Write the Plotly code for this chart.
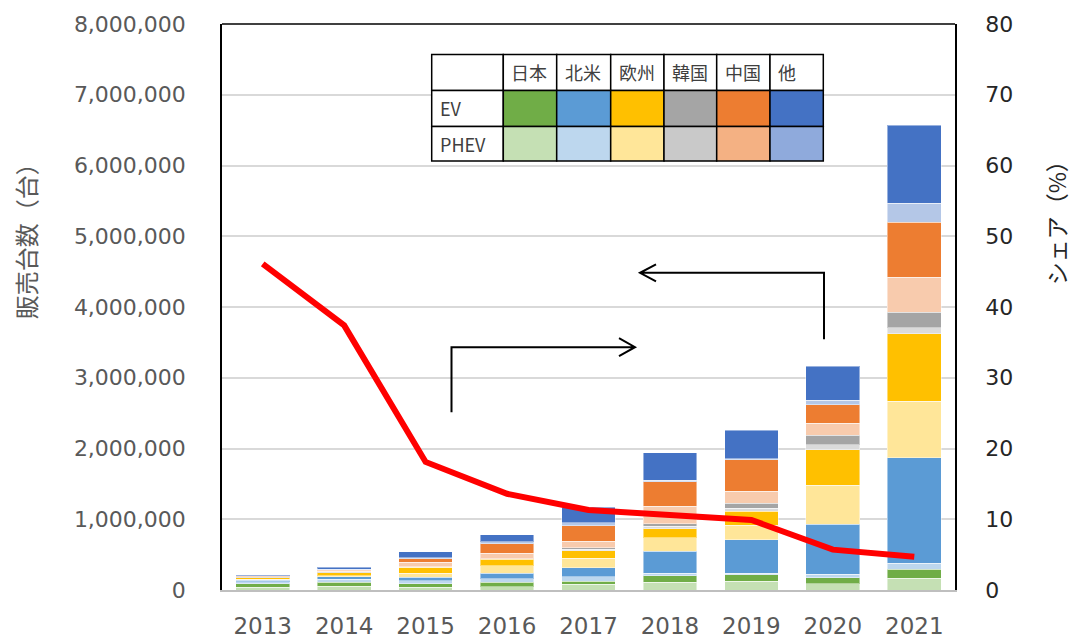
import plotly.graph_objects as go

years = ["2013", "2014", "2015", "2016", "2017", "2018", "2019", "2020", "2021"]

# sales (units) by region and type
jp_phev = [38000, 52000, 38000, 47000, 80000, 113000, 127000, 85000, 169000]
jp_ev   = [47000, 56000, 47000, 61000, 47000, 87000, 89000, 89000, 127000]
na_phev = [33000, 42000, 47000, 52000, 61000, 40000, 24000, 52000, 81000]
na_ev   = [19000, 38000, 47000, 80000, 127000, 305000, 470000, 702000, 1493000]
eu_phev = [14000, 14000, 61000, 103000, 135000, 193000, 207000, 550000, 797000]
eu_ev   = [24000, 42000, 80000, 94000, 105000, 127000, 193000, 503000, 952000]
kr_phev = [1000, 2000, 3000, 3000, 19000, 35000, 47000, 75000, 90000]
kr_ev   = [1000, 2000, 3000, 5000, 23000, 40000, 70000, 130000, 220000]
cn_phev = [7000, 14000, 66000, 71000, 94000, 245000, 170000, 170000, 494000]
cn_ev   = [7000, 19000, 52000, 137000, 217000, 345000, 445000, 259000, 776000]
ot_phev = [9000, 10000, 14000, 32000, 42000, 20000, 15000, 66000, 268000]
ot_ev   = [10000, 33000, 80000, 99000, 217000, 390000, 400000, 480000, 1100000]

# Japan share (%)
share = [46.1, 37.4, 18.1, 13.6, 11.3, 10.5, 9.9, 5.7, 4.7]

regions = ["日本", "北米", "欧州", "韓国", "中国", "他"]
row_labels = ["EV", "PHEV"]
ev_colors = ["#70AD47", "#5B9BD5", "#FFC000", "#A5A5A5", "#ED7D31", "#4472C4"]
phev_bar_colors = ["#C5E0B4", "#BDD7EE", "#FFE699", "#DBDBDB", "#F8CBAD", "#B4C7E7"]
phev_tab_colors = ["#C5E0B4", "#BDD7EE", "#FFE699", "#C9C9C9", "#F4B183", "#8FAADC"]

series = [
    ("日本 PHEV", jp_phev, phev_bar_colors[0]),
    ("日本 EV", jp_ev, ev_colors[0]),
    ("北米 PHEV", na_phev, phev_bar_colors[1]),
    ("北米 EV", na_ev, ev_colors[1]),
    ("欧州 PHEV", eu_phev, phev_bar_colors[2]),
    ("欧州 EV", eu_ev, ev_colors[2]),
    ("韓国 PHEV", kr_phev, phev_bar_colors[3]),
    ("韓国 EV", kr_ev, ev_colors[3]),
    ("中国 PHEV", cn_phev, phev_bar_colors[4]),
    ("中国 EV", cn_ev, ev_colors[4]),
    ("他 PHEV", ot_phev, phev_bar_colors[5]),
    ("他 EV", ot_ev, ev_colors[5]),
]

FONT = "DejaVu Sans, Noto Sans CJK JP, sans-serif"
CJK = "Noto Sans CJK JP, sans-serif"

fig = go.Figure()
for name, vals, col in series:
    fig.add_trace(go.Bar(
        x=years, y=vals, name=name,
        marker=dict(color=col, line=dict(color="rgba(255,255,255,0.45)", width=1)),
    ))

fig.add_trace(go.Scatter(
    x=years, y=share, yaxis="y2", mode="lines", name="シェア",
    line=dict(color="#FF0000", width=6),
))

# plot area in pixels
L, R, T, B = 222, 955, 23.5, 590
W, H = R - L, B - T


def px(xp):
    return (xp - L) / W


def py(yp):
    return (B - yp) / H


shapes = []
# top frame line
shapes.append(dict(type="line", xref="paper", yref="paper", x0=0, x1=1, y0=1, y1=1,
                   line=dict(color="#000000", width=1.5), layer="above"))

# legend table
col_edges = [431.7, 503.3, 556.7, 610.7, 664, 716.7, 770, 823.3]
row_edges = [54, 90, 126, 160.7]
annotations = []
for r in range(3):
    for c in range(7):
        fill = "#FFFFFF"
        if r == 1 and c > 0:
            fill = ev_colors[c - 1]
        elif r == 2 and c > 0:
            fill = phev_tab_colors[c - 1]
        shapes.append(dict(type="rect", xref="paper", yref="paper",
                           x0=px(col_edges[c]), x1=px(col_edges[c + 1]),
                           y0=py(row_edges[r + 1]), y1=py(row_edges[r]),
                           fillcolor=fill, line=dict(color="#000000", width=1.5),
                           layer="above"))
for i, reg in enumerate(regions):
    annotations.append(dict(xref="paper", yref="paper", x=px(col_edges[i + 1] + 6),
                            y=py((row_edges[0] + row_edges[1]) / 2), text=reg,
                            showarrow=False, xanchor="left", yanchor="middle",
                            font=dict(family=CJK, size=18, color="#404040")))
for j, lab in enumerate(row_labels):
    annotations.append(dict(xref="paper", yref="paper", x=px(col_edges[0] + 6),
                            y=py((row_edges[j + 1] + row_edges[j + 2]) / 2), text=lab,
                            showarrow=False, xanchor="left", yanchor="middle",
                            font=dict(family=CJK, size=18, color="#404040")))

# arrows (open chevron heads)
arrow_line = dict(color="#000000", width=2)
p1 = (f"M {px(451.5)},{py(412)} L {px(451.5)},{py(347)} L {px(635)},{py(347)} "
      f"M {px(619)},{py(338)} L {px(635)},{py(347)} L {px(619)},{py(356)}")
p2 = (f"M {px(824)},{py(339)} L {px(824)},{py(272.5)} L {px(640)},{py(272.5)} "
      f"M {px(656)},{py(264)} L {px(640)},{py(272.5)} L {px(656)},{py(281)}")
shapes.append(dict(type="path", xref="paper", yref="paper", path=p1, line=arrow_line, layer="above"))
shapes.append(dict(type="path", xref="paper", yref="paper", path=p2, line=arrow_line, layer="above"))

# axis titles
annotations.append(dict(xref="paper", yref="paper", x=px(25), y=py(235), text="販売台数（台）",
                        textangle=-90, showarrow=False, xanchor="center", yanchor="middle",
                        font=dict(family=CJK, size=24, color="#595959")))
annotations.append(dict(xref="paper", yref="paper", x=px(1056), y=py(217), text="シェア（%）",
                        textangle=-90, showarrow=False, xanchor="center", yanchor="middle",
                        font=dict(family=CJK, size=23, color="#262626")))

fig.update_layout(
    width=1076, height=638, autosize=False,
    margin=dict(l=L, r=1076 - R, t=T, b=638 - B, pad=0, autoexpand=False),
    paper_bgcolor="white", plot_bgcolor="white",
    barmode="stack", bargap=0.34,
    showlegend=False,
    font=dict(family=FONT),
    xaxis=dict(type="category", showline=True, linecolor="#BFBFBF", linewidth=2,
               ticks="", showgrid=False, ticklabelstandoff=14, automargin=False,
               tickfont=dict(family=FONT, size=23, color="#595959")),
    yaxis=dict(range=[0, 8000000], dtick=1000000, tickformat=",d", showgrid=True,
               gridcolor="#D9D9D9", gridwidth=1.5, showline=True, linecolor="#000000",
               linewidth=1.5, ticks="", ticklabelstandoff=30, zeroline=False, automargin=False,
               tickfont=dict(family=FONT, size=22, color="#595959")),
    yaxis2=dict(range=[0, 80], dtick=10, overlaying="y", side="right", showgrid=False,
                showline=True, linecolor="#000000", linewidth=1.5, ticks="",
                ticklabelstandoff=24, zeroline=False, automargin=False,
                tickfont=dict(family=FONT, size=22, color="#262626")),
    shapes=shapes,
    annotations=annotations,
)

fig.write_html(
    "out.html",
    config={"displayModeBar": False},
    post_script="document.body.style.margin='0';document.body.style.overflow='hidden';",
)
